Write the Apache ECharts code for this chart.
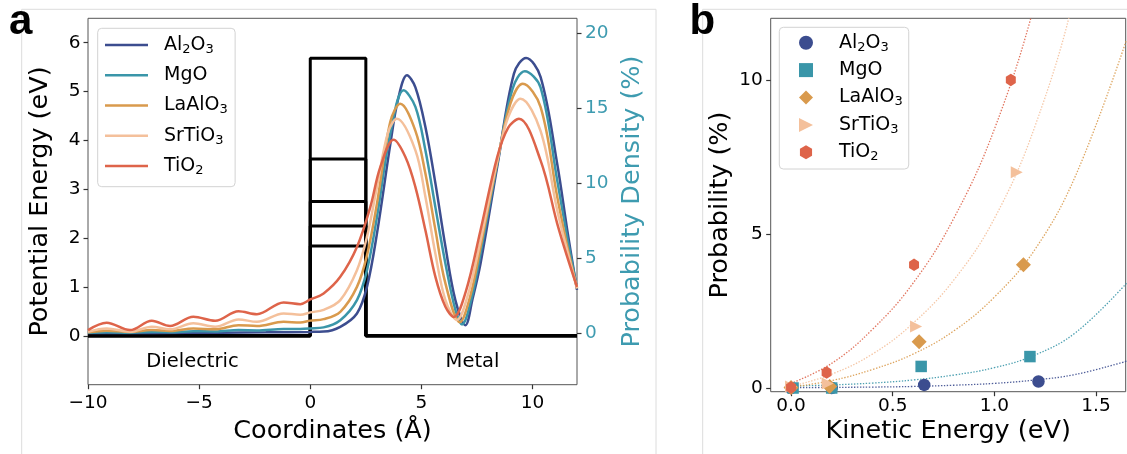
<!DOCTYPE html>
<html>
<head>
<meta charset="utf-8">
<script src="https://cdn.jsdelivr.net/npm/echarts@6/dist/echarts.min.js"></script>
<style>
  html, body { margin: 0; padding: 0; background: #fff; width: 1127px; height: 454px; overflow: hidden; }
  #panelA { position: absolute; left: 0; top: 0; width: 680px; height: 454px; }
  #panelB { position: absolute; left: 680px; top: 0; width: 447px; height: 454px; }
</style>
</head>
<body>
<div id="panelA"></div>
<div id="panelB"></div>
<script>
// ---------- shared ----------
const materials = ['Al2O3', 'MgO', 'LaAlO3', 'SrTiO3', 'TiO2'];
const materialColors = ['#3c4d8f', '#3a96a9', '#d99a4d', '#f4c09b', '#de644a'];

// ---------- panel a: barrier potential and probability density ----------
const coordRange = [-10, 12];
const barrierStart = 0;
const barrierEnd = 2.5;
const barrierHeights = [5.68, 3.62, 2.75, 2.25, 1.84];   // eV

const coordTicks = [-10, -5, 0, 5, 10];
const energyTicks = [0, 1, 2, 3, 4, 5, 6];
const densityTicks = [0, 5, 10, 15, 20];

// [coordinate (Å), probability density (%)]
const densityAl2O3 = [[-10,0.02],[-7,0.03],[-4,0.05],[-2,0.07],[0,0.1],[0.6,0.12],[1.35,0.44],[2.1,1.33],[2.55,3.1],[3.0,6.65],[3.6,12.6],[3.95,15.6],[4.35,17.2],[4.73,16.4],[5.18,13.75],[5.63,10.0],[6.08,5.8],[6.53,2.2],[6.98,0.55],[7.3,2.3],[7.66,4.66],[8.41,11.1],[9.16,17.3],[9.71,18.36],[10.36,17.1],[11.11,11.3],[11.56,6.9],[12,2.9]];
const densityMgO = [[-10,0.04],[-9.16,0.08],[-8.11,0.05],[-7.13,0.1],[-6.31,0.08],[-5.26,0.15],[-4.28,0.13],[-3.23,0.22],[-2.4,0.2],[-1.2,0.3],[-0.45,0.3],[0,0.33],[0.6,0.4],[1.35,0.88],[2.1,2.22],[2.55,4.2],[3.0,7.76],[3.6,13.3],[4.2,16.2],[4.73,15.1],[5.18,12.2],[5.63,8.4],[6.08,4.66],[6.53,1.55],[6.83,0.6],[7.25,2.3],[7.66,5.32],[8.41,11.3],[9.1,16.3],[9.65,17.47],[10.36,16.4],[11.11,10.2],[11.56,6.4],[12,3.0]];
const densityLaAlO3 = [[-10,0.07],[-9.16,0.18],[-8.11,0.1],[-7.13,0.22],[-6.31,0.16],[-5.26,0.33],[-4.28,0.27],[-3.23,0.55],[-2.4,0.49],[-1.2,0.77],[-0.45,0.73],[0,0.85],[0.6,0.95],[1.35,1.44],[2.1,3.1],[2.55,5.2],[3.0,8.65],[3.6,14.1],[4.05,15.3],[4.73,13.5],[5.18,10.65],[5.63,6.9],[6.08,3.33],[6.73,0.75],[7.2,2.5],[7.66,5.76],[8.41,11.4],[9.0,15.3],[9.56,16.63],[10.36,15.1],[11.11,9.1],[11.56,5.8],[12,3.0]];
const densitySrTiO3 = [[-10,0.11],[-9.16,0.33],[-8.11,0.11],[-7.13,0.44],[-6.31,0.27],[-5.26,0.67],[-4.28,0.44],[-3.23,0.93],[-2.4,0.77],[-1.2,1.33],[-0.45,1.24],[0,1.4],[0.6,1.57],[1.35,2.22],[2.1,4.21],[2.55,6.43],[3.0,9.75],[3.5,13.4],[3.9,14.3],[4.73,12.2],[5.18,9.1],[5.63,5.3],[6.08,2.22],[6.6,0.9],[7.1,2.6],[7.66,6.2],[8.41,11.5],[8.9,14.4],[9.46,15.64],[10.36,13.5],[11.11,8.2],[11.56,5.5],[12,3.0]];
const densityTiO2 = [[-10,0.22],[-9.16,0.71],[-8.11,0.22],[-7.13,0.84],[-6.31,0.49],[-5.26,1.11],[-4.28,0.84],[-3.23,1.48],[-2.4,1.28],[-1.2,2.06],[-0.45,1.95],[0,2.26],[0.6,2.66],[1.35,3.77],[2.1,5.76],[2.7,8.42],[3.15,11.08],[3.75,12.9],[4.28,11.75],[4.73,9.75],[5.18,6.87],[5.63,3.77],[6.08,1.77],[6.46,1.1],[7.0,2.8],[7.66,6.87],[8.41,11.75],[8.9,13.7],[9.39,14.3],[10.36,11.53],[11.11,7.32],[11.56,5.1],[12,3.1]];
const densities = [densityAl2O3, densityMgO, densityLaAlO3, densitySrTiO3, densityTiO2];

// region captions, in data coordinates
const regionLabels = ['Dielectric', 'Metal'];
const regionLabelCoords = [[-5.3, -0.53], [7.3, -0.53]];

// ---------- panel b: probability vs kinetic energy ----------
const kineticTicks = [0, 0.5, 1.0, 1.5];
const probabilityTicks = [0, 5, 10];

// measured points [kinetic energy (eV), probability (%)]
const pointsAl2O3 = [[0, 0.0], [0.2, 0.0], [0.655, 0.1], [1.217, 0.21]];
const pointsMgO = [[0.01, 0.0], [0.2, 0.0], [0.64, 0.7], [1.175, 1.02]];
const pointsLaAlO3 = [[0, 0.02], [0.19, 0.05], [0.63, 1.5], [1.143, 4.0]];
const pointsSrTiO3 = [[0, 0.05], [0.18, 0.15], [0.615, 2.0], [1.11, 7.0]];
const pointsTiO2 = [[0, 0.02], [0.175, 0.5], [0.605, 4.0], [1.081, 10.0]];
const measuredPoints = [pointsAl2O3, pointsMgO, pointsLaAlO3, pointsSrTiO3, pointsTiO2];

// trend curves sampled along kinetic energy
const trendEnergy = [0, 0.2, 0.4, 0.6, 0.8, 1.0, 1.2, 1.4, 1.65];
const trendAl2O3 = [0.01, 0.02, 0.03, 0.05, 0.09, 0.15, 0.26, 0.44, 0.87];
const trendMgO = [0.06, 0.1, 0.16, 0.26, 0.42, 0.66, 1.07, 1.8, 3.4];
const trendLaAlO3 = [0.03, 0.24, 0.6, 1.1, 1.85, 2.95, 4.5, 6.9, 11.3];
const trendSrTiO3 = [0.05, 0.45, 1.1, 2.1, 3.5, 5.5, 8.5, 12.9, 20.8];
const trendTiO2 = [0.15, 0.8, 1.9, 3.4, 5.5, 8.4, 12.5, 18.1, 27.0];
const trends = [trendAl2O3, trendMgO, trendLaAlO3, trendSrTiO3, trendTiO2];

const markerSymbols = [
  'circle',
  'rect',
  'diamond',
  'path://M0,0L10,5L0,10Z',
  'path://M5,0L9.33,2.5L9.33,7.5L5,10L0.67,7.5L0.67,2.5Z'
];
const markerSizes = [12.5, 11.5, [15, 15], [12, 12], [11.5, 12.5]];

// ---------- helpers ----------
const FONT = 'DejaVu Sans';
const TICK_COLOR = '#333';
const DENSITY_COLOR = '#3e9bb0';

function chem(name) {
  return '{p|}{t|' + name.replace(/(\d)/g, '}{s|$1}{t|') + '}';
}
function minusFmt(v) {
  return v < 0 ? '\u2212' + Math.abs(v) : String(v);
}
function legendRich(gap) {
  return {
    p: { width: gap, lineHeight: 22 },
    t: { fontFamily: FONT, fontSize: 19, lineHeight: 22, color: '#000' },
    s: { fontFamily: FONT, fontSize: 13, lineHeight: 12, verticalAlign: 'bottom', color: '#000' }
  };
}
function tickAxis(values, fmt, color, margin) {
  return {
    nameMoveOverlap: false,
    axisLine: { show: false, onZero: false },
    splitLine: { show: false },
    axisTick: { show: true, inside: false, length: 4.5, customValues: values, lineStyle: { color: TICK_COLOR, width: 1.2 } },
    axisLabel: { customValues: values, formatter: fmt, fontFamily: FONT, fontSize: 18.5, color: color, margin: margin }
  };
}
function titleStyle(color) {
  return { fontFamily: FONT, fontSize: 25.5, color: color };
}
function frameLines(lines) {
  return lines.map(p => ({
    type: 'line', silent: true, z: 0,
    shape: { x1: p[0], y1: p[1], x2: p[2], y2: p[3] },
    style: { stroke: '#dcdcdc', lineWidth: 1 }
  }));
}

// ---------- panel a ----------
const chartA = echarts.init(document.getElementById('panelA'));

const potentialSeries = barrierHeights.map(h => ({
  type: 'line',
  xAxisIndex: 0, yAxisIndex: 0,
  data: [[coordRange[0], 0], [barrierStart, 0], [barrierStart, h], [barrierEnd, h], [barrierEnd, 0], [coordRange[1], 0]],
  symbol: 'none', showSymbol: false, silent: true, animation: false, z: 2,
  lineStyle: { color: '#000', width: 3 }
}));

const densitySeries = materials.map((m, i) => ({
  name: m,
  type: 'line',
  xAxisIndex: 0, yAxisIndex: 1,
  data: densities[i],
  smooth: 0.35,
  symbol: 'none', showSymbol: false, animation: false, z: 3 + i,
  color: materialColors[i],
  lineStyle: { color: materialColors[i], width: 2.5 }
}));

chartA.setOption({
  animation: false,
  textStyle: { fontFamily: FONT },
  grid: { left: 88, top: 18.3, width: 489, height: 366.4, show: true, borderColor: '#555', borderWidth: 1, backgroundColor: 'transparent' },
  xAxis: Object.assign({
    type: 'value', min: coordRange[0], max: coordRange[1],
    name: 'Coordinates (\u00c5)', nameLocation: 'middle', nameGap: 33.6,
    nameTextStyle: titleStyle('#000')
  }, tickAxis(coordTicks, minusFmt, '#000', 9)),
  yAxis: [
    Object.assign({
      type: 'value', min: -1, max: 6.5, position: 'left',
      name: 'Potential Energy (eV)', nameLocation: 'middle', nameGap: 34.6,
      nameTextStyle: titleStyle('#000')
    }, tickAxis(energyTicks, minusFmt, '#000', 7.5)),
    Object.assign({
      type: 'value', min: -3.42, max: 21, position: 'right',
      name: 'Probability Density (%)', nameLocation: 'middle', nameGap: 42,
      nameTextStyle: titleStyle(DENSITY_COLOR)
    }, tickAxis(densityTicks, minusFmt, DENSITY_COLOR, 8))
  ],
  legend: {
    orient: 'vertical', left: 97.7, top: 28.3,
    padding: [5.7, 7.4, 9.7, 7.3],
    icon: 'rect',
    itemWidth: 43, itemHeight: 2.6, itemGap: 8.25,
    backgroundColor: 'rgba(255,255,255,0.8)', borderColor: '#d2d2d2', borderWidth: 1, borderRadius: 4,
    selectedMode: false,
    data: materials,
    formatter: chem,
    textStyle: { lineHeight: 22, rich: legendRich(11) }
  },
  series: potentialSeries.concat(densitySeries)
});

const regionGraphics = regionLabels.map((txt, i) => {
  const p = chartA.convertToPixel({ xAxisIndex: 0, yAxisIndex: 0 }, regionLabelCoords[i]);
  return {
    type: 'text', x: p[0], y: p[1], z: 10,
    style: { text: txt, fontFamily: FONT, fontSize: 19.5, fill: '#000', align: 'center', verticalAlign: 'middle' }
  };
});

chartA.setOption({
  graphic: frameLines([[21.7, 9.3, 656, 9.3], [21.7, 9.3, 21.7, 454], [656, 9.3, 656, 454]]).concat(regionGraphics, [{
    type: 'text', x: 9, y: 22.7, z: 10,
    style: { text: 'a', fontFamily: 'Liberation Sans', fontWeight: 'bold', fontSize: 42, fill: '#000', verticalAlign: 'middle' }
  }])
});

// ---------- panel b ----------
const chartB = echarts.init(document.getElementById('panelB'));

const trendSeries = materials.map((m, i) => ({
  name: m + ' trend',
  type: 'line',
  data: trendEnergy.map((e, k) => [e, trends[i][k]]),
  smooth: 0.4,
  symbol: 'none', showSymbol: false, silent: true, animation: false, z: 2,
  lineStyle: { color: materialColors[i], width: 1.3, type: [1.4, 1.6], opacity: 0.9 }
}));

const pointSeries = materials.map((m, i) => ({
  name: m,
  type: 'scatter',
  data: measuredPoints[i],
  symbol: markerSymbols[i],
  symbolSize: markerSizes[i],
  symbolKeepAspect: true,
  animation: false, z: 5 + i,
  itemStyle: { color: materialColors[i], opacity: 1 }
}));

chartB.setOption({
  animation: false,
  textStyle: { fontFamily: FONT },
  grid: { left: 90.7, top: 18.3, width: 355, height: 373.4, show: true, borderColor: '#555', borderWidth: 1, backgroundColor: 'transparent' },
  xAxis: Object.assign({
    type: 'value', min: -0.1, max: 1.646,
    name: 'Kinetic Energy (eV)', nameLocation: 'middle', nameGap: 26.6,
    nameTextStyle: titleStyle('#000')
  }, tickAxis(kineticTicks, v => v.toFixed(1), '#000', 5)),
  yAxis: Object.assign({
    type: 'value', min: -0.12, max: 12,
    name: 'Probability (%)', nameLocation: 'middle', nameGap: 37.3,
    nameTextStyle: titleStyle('#000')
  }, tickAxis(probabilityTicks, minusFmt, '#000', 8)),
  legend: {
    orient: 'vertical', left: 99.3, top: 27.3,
    padding: [4.4, 6, 5.7, 19.7],
    itemWidth: 14, itemHeight: 14, itemGap: 5.4,
    backgroundColor: 'rgba(255,255,255,0.8)', borderColor: '#d2d2d2', borderWidth: 1, borderRadius: 4,
    selectedMode: false,
    data: materials,
    formatter: chem,
    textStyle: { lineHeight: 22, rich: legendRich(21) }
  },
  series: trendSeries.concat(pointSeries),
  graphic: frameLines([[22.7, 9.3, 447, 9.3], [22.7, 9.3, 22.7, 454]]).concat([{
    type: 'text', x: 9.5, y: 22.4, z: 10,
    style: { text: 'b', fontFamily: 'Liberation Sans', fontWeight: 'bold', fontSize: 42, fill: '#000', verticalAlign: 'middle' }
  }])
});
</script>
</body>
</html>
